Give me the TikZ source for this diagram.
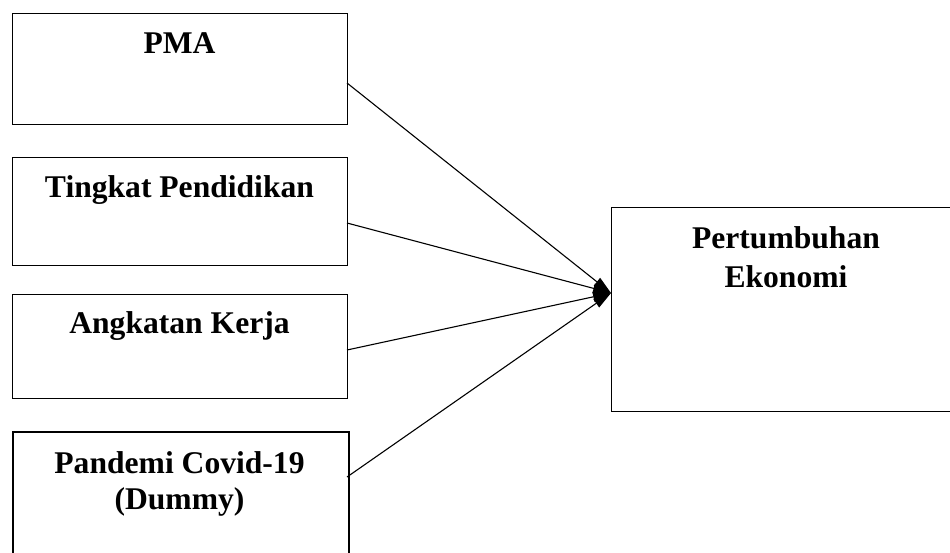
\documentclass[tikz,border=0pt]{standalone}
\usepackage{fontspec}
\setmainfont{Liberation Serif}
\usetikzlibrary{arrows.meta}
\tikzset{
  varbox/.style={draw=black, line width=1.1pt, fill=white, inner sep=0pt, anchor=north west},
  thickbox/.style={varbox, line width=2.2pt},
  lbl/.style={font=\bfseries\fontsize{31.6}{37}\selectfont, inner sep=0pt, anchor=base},
  conn/.style={draw=black, line width=1.1pt, -{Triangle[length=18pt,width=10pt]}}
}
\begin{document}
\begin{tikzpicture}[x=1pt,y=-1pt]
\useasboundingbox (0,0) rectangle (950,552);
% boxes
\node[varbox, minimum width=335pt, minimum height=111pt] (pma) at (12,13) {};
\node[varbox, minimum width=335pt, minimum height=108pt] (tp) at (12,157) {};
\node[varbox, minimum width=335pt, minimum height=104pt] (ak) at (12,294) {};
\node[thickbox, minimum width=336pt, minimum height=140pt] (pc) at (11.5,431) {};
\node[varbox, minimum width=350pt, minimum height=203.5pt] (pe) at (611,207) {};
% labels
\node[lbl] (tpma) at (179.5,53) {PMA};
\node[lbl] (ttp) at (179.5,197) {Tingkat Pendidikan};
\node[lbl] (tak) at (179.5,333) {Angkatan Kerja};
\node[lbl] (tpc1) at (179.5,473) {Pandemi Covid-19};
\node[lbl] (tpc2) at (179.5,509) {(Dummy)};
\node[lbl] (tpe1) at (786,248) {Pertumbuhan};
\node[lbl] (tpe2) at (786,287) {Ekonomi};
% connector points
\coordinate (s1) at (347,83);
\coordinate (s2) at (347,223);
\coordinate (s3) at (347,350);
\coordinate (s4) at (347,477);
\coordinate (tip) at (611,293);
\draw[conn] (s1) -- (tip);
\draw[conn] (s2) -- (tip);
\draw[conn] (s3) -- (tip);
\draw[conn] (s4) -- (tip);
\end{tikzpicture}
\end{document}
